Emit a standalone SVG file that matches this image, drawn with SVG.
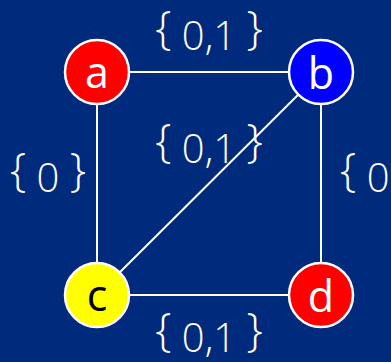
<svg xmlns="http://www.w3.org/2000/svg" width="391" height="362" viewBox="0 0 391 362">
<style>
.edge{stroke:#fff;stroke-width:2;fill:none}
.node{stroke:#fff;stroke-width:2.5}
.nl{font-family:"Open Sans","Noto Sans",sans-serif;font-size:43px;text-anchor:middle;fill:#fff}
.lbl{font-family:"Open Sans","Noto Sans",sans-serif;font-weight:300;font-size:40px;fill:#fff;text-anchor:middle}
.br{font-size:46px}
</style>
<rect width="391" height="362" fill="#002a7c"/>
<g id="connectors">
<line class="edge" x1="97" y1="72" x2="321" y2="72"/>
<line class="edge" x1="97" y1="72" x2="97" y2="295"/>
<line class="edge" x1="321" y1="72" x2="321" y2="295"/>
<line class="edge" x1="97" y1="295" x2="321" y2="295"/>
<line class="edge" x1="321" y1="72" x2="97" y2="295"/>
</g>
<g id="node-a"><circle class="node" cx="97" cy="72" r="32" fill="#ff0000"/><text class="nl" x="97" y="88">a</text></g>
<g id="node-b"><circle class="node" cx="321" cy="72" r="32" fill="#0000ff"/><text class="nl" x="321" y="89">b</text></g>
<g id="node-c"><circle class="node" cx="97" cy="295" r="32" fill="#ffff00"/><text class="nl" x="97" y="311" style="fill:#000">c</text></g>
<g id="node-d"><circle class="node" cx="321" cy="295" r="32" fill="#ff0000"/><text class="nl" x="321" y="312">d</text></g>
<g id="labels">
<text class="lbl" x="209" y="50"><tspan class="br" dy="-6">{</tspan><tspan dy="6"> 0,1 </tspan><tspan class="br" dy="-6">}</tspan></text>
<text class="lbl" x="48" y="192"><tspan class="br" dy="-6">{</tspan><tspan dy="6"> 0 </tspan><tspan class="br" dy="-6">}</tspan></text>
<text class="lbl" x="209" y="163"><tspan class="br" dy="-6">{</tspan><tspan dy="6"> 0,1 </tspan><tspan class="br" dy="-6">}</tspan></text>
<text class="lbl" x="340" y="192" style="text-anchor:start"><tspan class="br" dy="-6">{</tspan><tspan dy="6"> 0</tspan></text>
<text class="lbl" x="209" y="352"><tspan class="br" dy="-6">{</tspan><tspan dy="6"> 0,1 </tspan><tspan class="br" dy="-6">}</tspan></text>
</g>
</svg>
